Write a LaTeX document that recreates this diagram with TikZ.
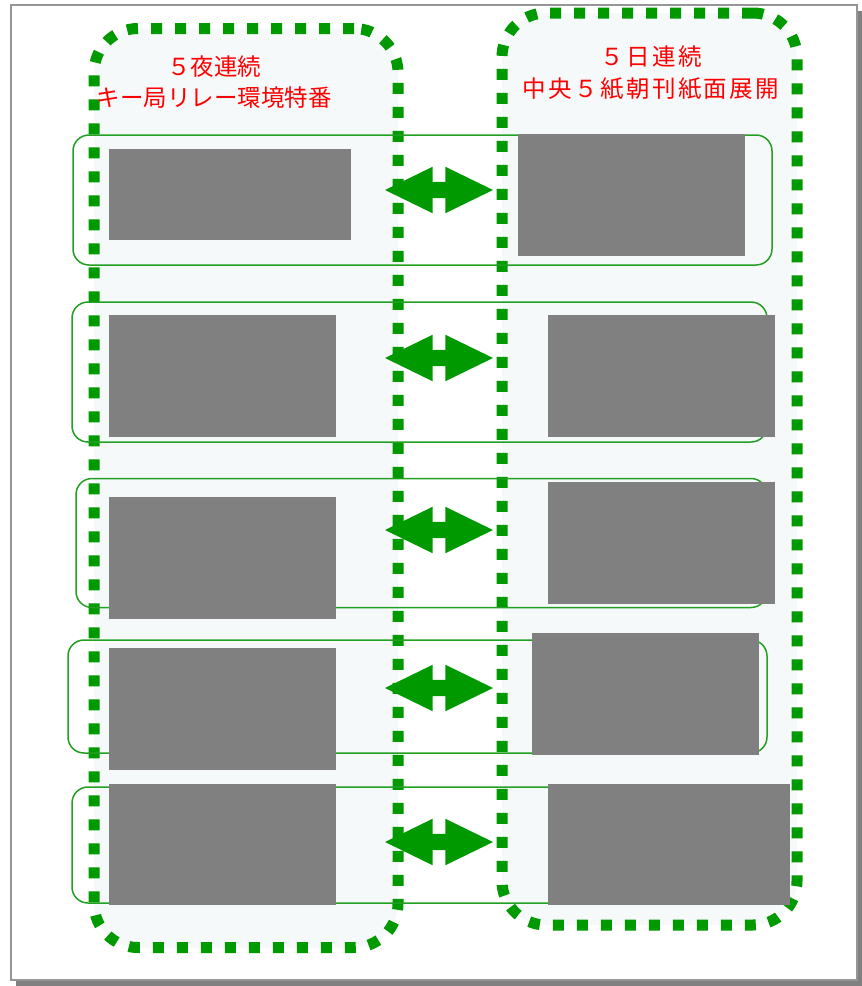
\documentclass[tikz,border=0pt]{standalone}
\usepackage{fontspec}
\newfontfamily\jpfont{Noto Sans CJK JP}
\newfontfamily\jpwidefont[LetterSpace=10]{Noto Sans CJK JP}
\usetikzlibrary{positioning, shapes.arrows, shadows}
\definecolor{frame-grey}{RGB}{150,150,150}
\definecolor{shadow-grey}{RGB}{128,128,128}
\definecolor{dot-green}{RGB}{0,153,0}
\definecolor{row-green}{RGB}{34,160,34}
\definecolor{pane-blue}{RGB}{245,249,250}
\definecolor{photo-grey}{RGB}{128,128,128}

\begin{document}
\begin{tikzpicture}
    [x=1pt, y=-1pt,
    series/.style = {rectangle, draw=dot-green, fill=pane-blue, 
            line width=11pt, dash pattern=on 11pt off 13pt, rounded corners=44pt},
    pair/.style = {rectangle, draw=row-green, line width=1.5pt, rounded corners=16pt},
    photo/.style = {rectangle, fill=photo-grey, inner sep=0pt, 
            minimum width=227pt, minimum height=122pt},
    title/.style = {align=center, text=red, inner sep=0pt, 
            font=\jpfont\fontsize{23.5}{31}\selectfont},
    link/.style = {double arrow, fill=dot-green, inner sep=0pt, 
            text height=8pt, text depth=8pt, minimum height=108pt, 
            double arrow head extend=15pt, double arrow tip angle=52},
    ]
    
    \useasboundingbox (0,0) rectangle (862,986);
    
	\node[rectangle, draw=frame-grey, line width=2pt, fill=white, minimum width=846pt, minimum height=975pt,
	    drop shadow={shadow xshift=5pt, shadow yshift=-6pt, fill=shadow-grey, opacity=1}] (page) at (434, 492.5) {};
	
	
	\node[series, minimum width=304pt, minimum height=919pt] (nights) at (246, 488) {};
	\node[series, minimum width=295pt, minimum height=912pt] (days) at (649.5, 469) {};
	
	\node[title] (nights-title) at (214, 82) {５夜連続\\キー局リレー環境特番};
	\node[title, font=\jpwidefont\fontsize{23.5}{32}\selectfont] (days-title) at (651, 73) {５日連続\\中央５紙朝刊紙面展開};
	
	
	\node[pair, minimum width=699pt, minimum height=130pt] (row1) at (422.5, 200) {};
	\node[pair, minimum width=695pt, minimum height=140pt] (row2) at (419.5, 372) {};
	\node[pair, minimum width=691pt, minimum height=129pt] (row3) at (421.5, 543) {};
	\node[pair, minimum width=699pt, minimum height=113pt] (row4) at (417.5, 696.5) {};
	\node[pair, minimum width=708pt, minimum height=116pt] (row5) at (426, 845) {};
	
	
	\node[photo, minimum width=242pt, minimum height=91pt] (tv1) at (230, 194.5) {};
	\node[photo] (tv2) at (222.5, 376) {};
	\node[photo] (tv3) at (222.5, 558) {};
	\node[photo] (tv4) at (222.5, 709) {};
	\node[photo, minimum height=121pt] (tv5) at (222.5, 844.5) {};
	
	\node[photo] (paper1) at (631.5, 195) {};
	\node[photo] (paper2) at (661.5, 376) {};
	\node[photo] (paper3) at (661.5, 543) {};
	\node[photo] (paper4) at (645.5, 694) {};
	\node[photo, minimum width=242pt, minimum height=121pt] (paper5) at (669, 844.5) {};
	
	
	\node[link] (link1) at (439, 190) {};
	\node[link] (link2) at (439, 358) {};
	\node[link] (link3) at (439, 530) {};
	\node[link] (link4) at (439, 688) {};
	\node[link] (link5) at (439, 842) {};
\end{tikzpicture}
\end{document}
